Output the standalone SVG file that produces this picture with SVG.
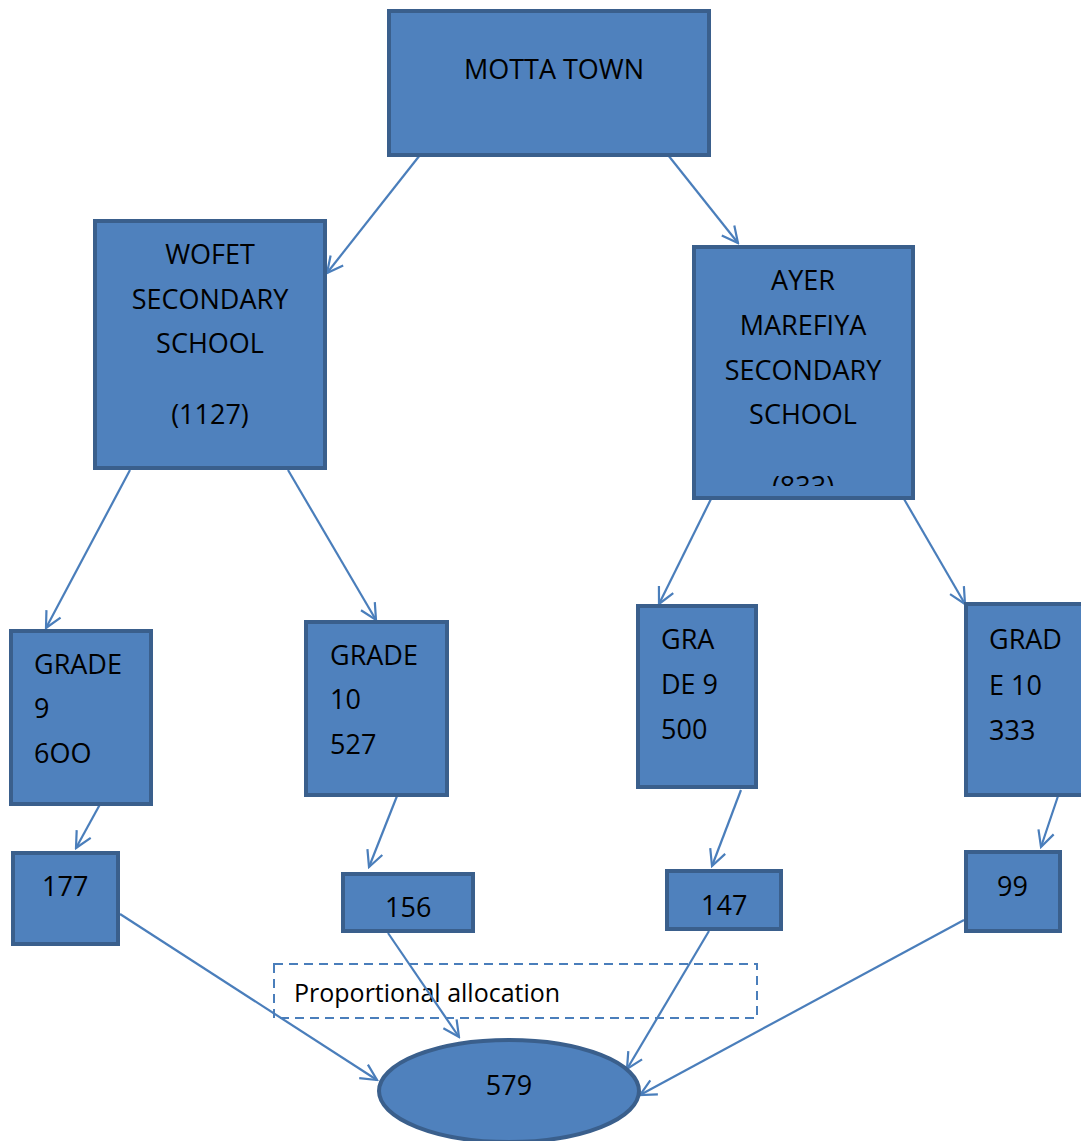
<svg xmlns="http://www.w3.org/2000/svg" width="1081" height="1141" viewBox="0 0 1081 1141">
<style>
.n{fill:#4F81BD;stroke:#3A5F8C;stroke-width:4}
.t{font-family:"Open Sans","Liberation Sans",sans-serif;font-size:27px;fill:#000}
.c{text-anchor:middle}
.e{fill:none;stroke:#4A7EBB;stroke-width:2.2;marker-end:url(#ah)}
</style>
<defs>
<marker id="ah" viewBox="0 0 20 20" refX="18" refY="10" markerWidth="20" markerHeight="20" markerUnits="userSpaceOnUse" orient="auto">
<path d="M2,2 L18,10 L2,18" fill="none" stroke="#4A7EBB" stroke-width="2.2"/>
</marker>
<clipPath id="ayerclip"><rect x="692" y="245" width="223" height="241"/></clipPath>
</defs>
<rect x="0" y="0" width="1081" height="1141" fill="#fff"/>
<g id="note">
<rect x="274" y="964" width="483" height="54" fill="none" stroke="#4A7EBB" stroke-width="2" stroke-dasharray="9 6"/>
<text class="t" x="294" y="1002" style="font-size:25px">Proportional allocation</text>
</g>
<g id="connectors">
<line class="e" x1="420" y1="155" x2="327" y2="273"/>
<line class="e" x1="668" y1="155" x2="738" y2="243"/>
<line class="e" x1="130" y1="470" x2="46" y2="628"/>
<line class="e" x1="288" y1="470" x2="376" y2="620"/>
<line class="e" x1="711" y1="499" x2="659" y2="604"/>
<line class="e" x1="904" y1="499" x2="965" y2="604"/>
<line class="e" x1="104" y1="797" x2="76" y2="848"/>
<line class="e" x1="397" y1="796" x2="369" y2="867"/>
<line class="e" x1="741" y1="790" x2="712" y2="866"/>
<line class="e" x1="1058" y1="796" x2="1041" y2="847"/>
<line class="e" x1="120" y1="914" x2="377" y2="1080"/>
<line class="e" x1="388" y1="933" x2="459" y2="1037"/>
<line class="e" x1="709" y1="931" x2="627" y2="1069"/>
<line class="e" x1="964" y1="920" x2="640" y2="1095"/>
</g>
<g id="motta">
<rect class="n" x="389" y="11" width="320" height="144"/>
<text class="t c" x="554" y="79">MOTTA TOWN</text>
</g>
<g id="wofet">
<rect class="n" x="95" y="221" width="230" height="247"/>
<text class="t c" x="210" y="264">WOFET</text>
<text class="t c" x="210" y="309">SECONDARY</text>
<text class="t c" x="210" y="353">SCHOOL</text>
<text class="t c" x="210" y="424">(1127)</text>
</g>
<g id="ayer">
<rect class="n" x="694" y="247" width="219" height="251"/>
<g clip-path="url(#ayerclip)">
<text class="t c" x="803" y="290">AYER</text>
<text class="t c" x="803" y="335">MAREFIYA</text>
<text class="t c" x="803" y="380">SECONDARY</text>
<text class="t c" x="803" y="424">SCHOOL</text>
<text class="t c" x="803" y="496">(833)</text>
</g>
</g>
<g id="g9a">
<rect class="n" x="11" y="631" width="140" height="173"/>
<text class="t" x="34" y="674">GRADE</text>
<text class="t" x="34" y="718">9</text>
<text class="t" x="34" y="763">6OO</text>
</g>
<g id="g10a">
<rect class="n" x="306" y="622" width="141" height="173"/>
<text class="t" x="330" y="665">GRADE</text>
<text class="t" x="330" y="709">10</text>
<text class="t" x="330" y="754">527</text>
</g>
<g id="g9b">
<rect class="n" x="638" y="606" width="118" height="181"/>
<text class="t" x="661" y="649">GRA</text>
<text class="t" x="661" y="694">DE 9</text>
<text class="t" x="661" y="739">500</text>
</g>
<g id="g10b">
<rect class="n" x="966" y="604" width="120" height="191"/>
<text class="t" x="989" y="649">GRAD</text>
<text class="t" x="989" y="695">E 10</text>
<text class="t" x="989" y="740">333</text>
</g>
<g id="n177">
<rect class="n" x="13" y="853" width="105" height="91"/>
<text class="t" x="42" y="896">177</text>
</g>
<g id="n156">
<rect class="n" x="343" y="874" width="130" height="57"/>
<text class="t" x="385" y="917">156</text>
</g>
<g id="n147">
<rect class="n" x="667" y="871" width="114" height="58"/>
<text class="t" x="701" y="915">147</text>
</g>
<g id="n99">
<rect class="n" x="966" y="852" width="94" height="79"/>
<text class="t" x="997" y="896">99</text>
</g>
<g id="total">
<ellipse class="n" cx="509" cy="1091" rx="130" ry="51"/>
<text class="t c" x="509" y="1095">579</text>
</g>
</svg>
